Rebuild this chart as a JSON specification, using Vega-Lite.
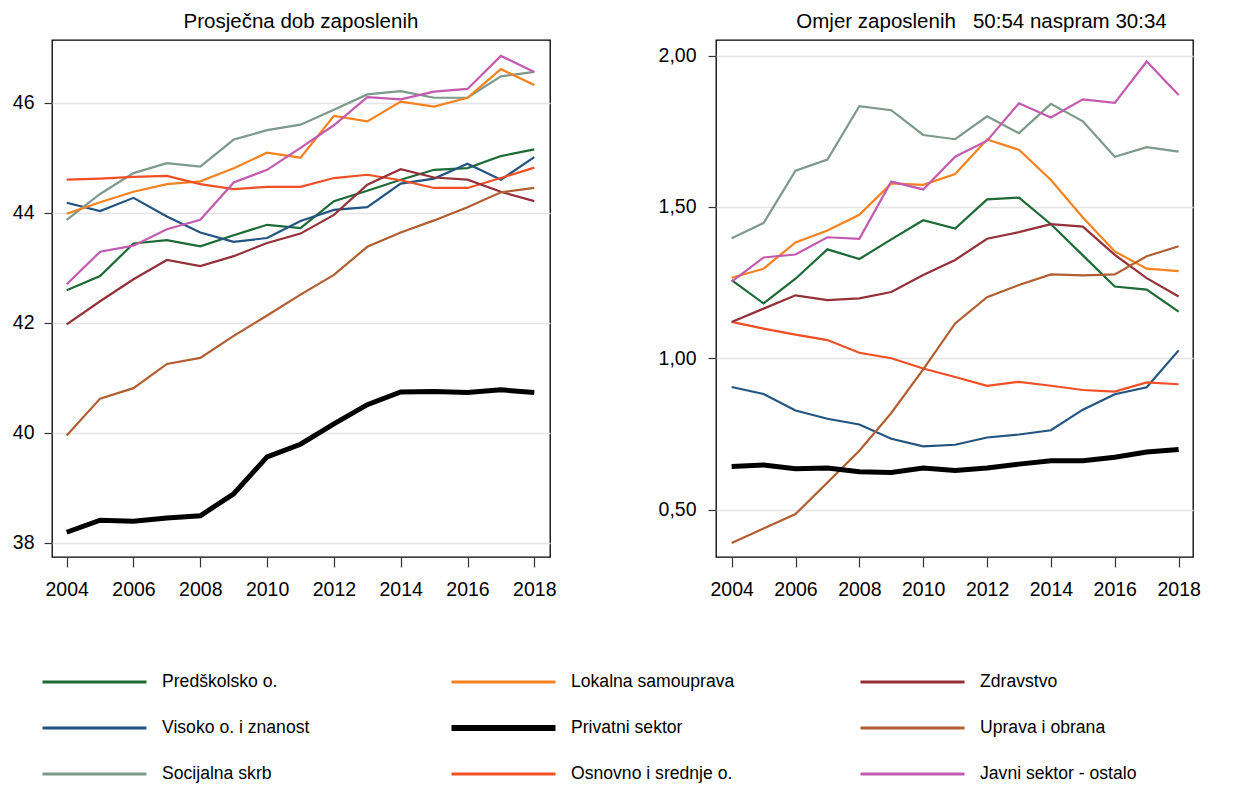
{
  "$schema": "https://vega.github.io/schema/vega-lite/v6.json",
  "background": "white",
  "padding": {"left": 11, "top": 10, "right": 10, "bottom": 4},
  "datasets": {
    "d": [
      {"sektor":"Predškolsko o.","godina":2004,"dob":42.59,"omjer":1.258},
      {"sektor":"Predškolsko o.","godina":2005,"dob":42.85,"omjer":1.181},
      {"sektor":"Predškolsko o.","godina":2006,"dob":43.44,"omjer":1.263},
      {"sektor":"Predškolsko o.","godina":2007,"dob":43.50,"omjer":1.360},
      {"sektor":"Predškolsko o.","godina":2008,"dob":43.39,"omjer":1.328},
      {"sektor":"Predškolsko o.","godina":2009,"dob":43.59,"omjer":1.393},
      {"sektor":"Predškolsko o.","godina":2010,"dob":43.78,"omjer":1.456},
      {"sektor":"Predškolsko o.","godina":2011,"dob":43.72,"omjer":1.429},
      {"sektor":"Predškolsko o.","godina":2012,"dob":44.21,"omjer":1.525},
      {"sektor":"Predškolsko o.","godina":2013,"dob":44.40,"omjer":1.531},
      {"sektor":"Predškolsko o.","godina":2014,"dob":44.60,"omjer":1.443},
      {"sektor":"Predškolsko o.","godina":2015,"dob":44.78,"omjer":1.340},
      {"sektor":"Predškolsko o.","godina":2016,"dob":44.81,"omjer":1.237},
      {"sektor":"Predškolsko o.","godina":2017,"dob":45.03,"omjer":1.227},
      {"sektor":"Predškolsko o.","godina":2018,"dob":45.15,"omjer":1.154},
      {"sektor":"Visoko o. i znanost","godina":2004,"dob":44.18,"omjer":0.905},
      {"sektor":"Visoko o. i znanost","godina":2005,"dob":44.03,"omjer":0.882},
      {"sektor":"Visoko o. i znanost","godina":2006,"dob":44.27,"omjer":0.827},
      {"sektor":"Visoko o. i znanost","godina":2007,"dob":43.93,"omjer":0.800},
      {"sektor":"Visoko o. i znanost","godina":2008,"dob":43.64,"omjer":0.781},
      {"sektor":"Visoko o. i znanost","godina":2009,"dob":43.47,"omjer":0.734},
      {"sektor":"Visoko o. i znanost","godina":2010,"dob":43.54,"omjer":0.709},
      {"sektor":"Visoko o. i znanost","godina":2011,"dob":43.85,"omjer":0.714},
      {"sektor":"Visoko o. i znanost","godina":2012,"dob":44.05,"omjer":0.738},
      {"sektor":"Visoko o. i znanost","godina":2013,"dob":44.10,"omjer":0.748},
      {"sektor":"Visoko o. i znanost","godina":2014,"dob":44.53,"omjer":0.762},
      {"sektor":"Visoko o. i znanost","godina":2015,"dob":44.62,"omjer":0.830},
      {"sektor":"Visoko o. i znanost","godina":2016,"dob":44.89,"omjer":0.881},
      {"sektor":"Visoko o. i znanost","godina":2017,"dob":44.60,"omjer":0.904},
      {"sektor":"Visoko o. i znanost","godina":2018,"dob":45.01,"omjer":1.026},
      {"sektor":"Socijalna skrb","godina":2004,"dob":43.87,"omjer":1.397},
      {"sektor":"Socijalna skrb","godina":2005,"dob":44.34,"omjer":1.447},
      {"sektor":"Socijalna skrb","godina":2006,"dob":44.72,"omjer":1.620},
      {"sektor":"Socijalna skrb","godina":2007,"dob":44.90,"omjer":1.657},
      {"sektor":"Socijalna skrb","godina":2008,"dob":44.84,"omjer":1.833},
      {"sektor":"Socijalna skrb","godina":2009,"dob":45.33,"omjer":1.820},
      {"sektor":"Socijalna skrb","godina":2010,"dob":45.50,"omjer":1.738},
      {"sektor":"Socijalna skrb","godina":2011,"dob":45.60,"omjer":1.724},
      {"sektor":"Socijalna skrb","godina":2012,"dob":45.87,"omjer":1.800},
      {"sektor":"Socijalna skrb","godina":2013,"dob":46.15,"omjer":1.744},
      {"sektor":"Socijalna skrb","godina":2014,"dob":46.21,"omjer":1.841},
      {"sektor":"Socijalna skrb","godina":2015,"dob":46.09,"omjer":1.783},
      {"sektor":"Socijalna skrb","godina":2016,"dob":46.09,"omjer":1.666},
      {"sektor":"Socijalna skrb","godina":2017,"dob":46.48,"omjer":1.698},
      {"sektor":"Socijalna skrb","godina":2018,"dob":46.56,"omjer":1.683},
      {"sektor":"Lokalna samouprava","godina":2004,"dob":43.98,"omjer":1.266},
      {"sektor":"Lokalna samouprava","godina":2005,"dob":44.19,"omjer":1.296},
      {"sektor":"Lokalna samouprava","godina":2006,"dob":44.38,"omjer":1.383},
      {"sektor":"Lokalna samouprava","godina":2007,"dob":44.52,"omjer":1.422},
      {"sektor":"Lokalna samouprava","godina":2008,"dob":44.57,"omjer":1.474},
      {"sektor":"Lokalna samouprava","godina":2009,"dob":44.81,"omjer":1.578},
      {"sektor":"Lokalna samouprava","godina":2010,"dob":45.09,"omjer":1.573},
      {"sektor":"Lokalna samouprava","godina":2011,"dob":45.00,"omjer":1.609},
      {"sektor":"Lokalna samouprava","godina":2012,"dob":45.76,"omjer":1.723},
      {"sektor":"Lokalna samouprava","godina":2013,"dob":45.66,"omjer":1.689},
      {"sektor":"Lokalna samouprava","godina":2014,"dob":46.02,"omjer":1.589},
      {"sektor":"Lokalna samouprava","godina":2015,"dob":45.93,"omjer":1.465},
      {"sektor":"Lokalna samouprava","godina":2016,"dob":46.09,"omjer":1.353},
      {"sektor":"Lokalna samouprava","godina":2017,"dob":46.61,"omjer":1.296},
      {"sektor":"Lokalna samouprava","godina":2018,"dob":46.32,"omjer":1.288},
      {"sektor":"Osnovno i srednje o.","godina":2004,"dob":44.60,"omjer":1.120},
      {"sektor":"Osnovno i srednje o.","godina":2005,"dob":44.62,"omjer":1.098},
      {"sektor":"Osnovno i srednje o.","godina":2006,"dob":44.65,"omjer":1.078},
      {"sektor":"Osnovno i srednje o.","godina":2007,"dob":44.67,"omjer":1.060},
      {"sektor":"Osnovno i srednje o.","godina":2008,"dob":44.52,"omjer":1.018},
      {"sektor":"Osnovno i srednje o.","godina":2009,"dob":44.43,"omjer":1.000},
      {"sektor":"Osnovno i srednje o.","godina":2010,"dob":44.47,"omjer":0.966},
      {"sektor":"Osnovno i srednje o.","godina":2011,"dob":44.47,"omjer":0.938},
      {"sektor":"Osnovno i srednje o.","godina":2012,"dob":44.63,"omjer":0.909},
      {"sektor":"Osnovno i srednje o.","godina":2013,"dob":44.69,"omjer":0.922},
      {"sektor":"Osnovno i srednje o.","godina":2014,"dob":44.59,"omjer":0.909},
      {"sektor":"Osnovno i srednje o.","godina":2015,"dob":44.45,"omjer":0.895},
      {"sektor":"Osnovno i srednje o.","godina":2016,"dob":44.45,"omjer":0.890},
      {"sektor":"Osnovno i srednje o.","godina":2017,"dob":44.63,"omjer":0.920},
      {"sektor":"Osnovno i srednje o.","godina":2018,"dob":44.82,"omjer":0.914},
      {"sektor":"Zdravstvo","godina":2004,"dob":41.97,"omjer":1.120},
      {"sektor":"Zdravstvo","godina":2005,"dob":42.39,"omjer":1.164},
      {"sektor":"Zdravstvo","godina":2006,"dob":42.79,"omjer":1.208},
      {"sektor":"Zdravstvo","godina":2007,"dob":43.14,"omjer":1.192},
      {"sektor":"Zdravstvo","godina":2008,"dob":43.03,"omjer":1.198},
      {"sektor":"Zdravstvo","godina":2009,"dob":43.21,"omjer":1.219},
      {"sektor":"Zdravstvo","godina":2010,"dob":43.45,"omjer":1.275},
      {"sektor":"Zdravstvo","godina":2011,"dob":43.62,"omjer":1.325},
      {"sektor":"Zdravstvo","godina":2012,"dob":43.96,"omjer":1.395},
      {"sektor":"Zdravstvo","godina":2013,"dob":44.51,"omjer":1.417},
      {"sektor":"Zdravstvo","godina":2014,"dob":44.79,"omjer":1.443},
      {"sektor":"Zdravstvo","godina":2015,"dob":44.64,"omjer":1.435},
      {"sektor":"Zdravstvo","godina":2016,"dob":44.60,"omjer":1.342},
      {"sektor":"Zdravstvo","godina":2017,"dob":44.38,"omjer":1.265},
      {"sektor":"Zdravstvo","godina":2018,"dob":44.21,"omjer":1.204},
      {"sektor":"Uprava i obrana","godina":2004,"dob":39.95,"omjer":0.389},
      {"sektor":"Uprava i obrana","godina":2005,"dob":40.62,"omjer":0.437},
      {"sektor":"Uprava i obrana","godina":2006,"dob":40.81,"omjer":0.485},
      {"sektor":"Uprava i obrana","godina":2007,"dob":41.25,"omjer":0.589},
      {"sektor":"Uprava i obrana","godina":2008,"dob":41.36,"omjer":0.694},
      {"sektor":"Uprava i obrana","godina":2009,"dob":41.76,"omjer":0.819},
      {"sektor":"Uprava i obrana","godina":2010,"dob":42.13,"omjer":0.963},
      {"sektor":"Uprava i obrana","godina":2011,"dob":42.51,"omjer":1.115},
      {"sektor":"Uprava i obrana","godina":2012,"dob":42.87,"omjer":1.202},
      {"sektor":"Uprava i obrana","godina":2013,"dob":43.38,"omjer":1.242},
      {"sektor":"Uprava i obrana","godina":2014,"dob":43.64,"omjer":1.277},
      {"sektor":"Uprava i obrana","godina":2015,"dob":43.86,"omjer":1.274},
      {"sektor":"Uprava i obrana","godina":2016,"dob":44.10,"omjer":1.277},
      {"sektor":"Uprava i obrana","godina":2017,"dob":44.37,"omjer":1.337},
      {"sektor":"Uprava i obrana","godina":2018,"dob":44.45,"omjer":1.370},
      {"sektor":"Javni sektor - ostalo","godina":2004,"dob":42.70,"omjer":1.253},
      {"sektor":"Javni sektor - ostalo","godina":2005,"dob":43.29,"omjer":1.333},
      {"sektor":"Javni sektor - ostalo","godina":2006,"dob":43.40,"omjer":1.343},
      {"sektor":"Javni sektor - ostalo","godina":2007,"dob":43.70,"omjer":1.400},
      {"sektor":"Javni sektor - ostalo","godina":2008,"dob":43.87,"omjer":1.395},
      {"sektor":"Javni sektor - ostalo","godina":2009,"dob":44.55,"omjer":1.584},
      {"sektor":"Javni sektor - ostalo","godina":2010,"dob":44.78,"omjer":1.558},
      {"sektor":"Javni sektor - ostalo","godina":2011,"dob":45.18,"omjer":1.666},
      {"sektor":"Javni sektor - ostalo","godina":2012,"dob":45.59,"omjer":1.719},
      {"sektor":"Javni sektor - ostalo","godina":2013,"dob":46.10,"omjer":1.843},
      {"sektor":"Javni sektor - ostalo","godina":2014,"dob":46.06,"omjer":1.796},
      {"sektor":"Javni sektor - ostalo","godina":2015,"dob":46.20,"omjer":1.856},
      {"sektor":"Javni sektor - ostalo","godina":2016,"dob":46.25,"omjer":1.844},
      {"sektor":"Javni sektor - ostalo","godina":2017,"dob":46.85,"omjer":1.981},
      {"sektor":"Javni sektor - ostalo","godina":2018,"dob":46.56,"omjer":1.870},
      {"sektor":"Privatni sektor","godina":2004,"dob":38.19,"omjer":0.642},
      {"sektor":"Privatni sektor","godina":2005,"dob":38.41,"omjer":0.647},
      {"sektor":"Privatni sektor","godina":2006,"dob":38.39,"omjer":0.635},
      {"sektor":"Privatni sektor","godina":2007,"dob":38.45,"omjer":0.637},
      {"sektor":"Privatni sektor","godina":2008,"dob":38.49,"omjer":0.625},
      {"sektor":"Privatni sektor","godina":2009,"dob":38.89,"omjer":0.622},
      {"sektor":"Privatni sektor","godina":2010,"dob":39.56,"omjer":0.637},
      {"sektor":"Privatni sektor","godina":2011,"dob":39.79,"omjer":0.629},
      {"sektor":"Privatni sektor","godina":2012,"dob":40.16,"omjer":0.637},
      {"sektor":"Privatni sektor","godina":2013,"dob":40.51,"omjer":0.650},
      {"sektor":"Privatni sektor","godina":2014,"dob":40.74,"omjer":0.661},
      {"sektor":"Privatni sektor","godina":2015,"dob":40.75,"omjer":0.661},
      {"sektor":"Privatni sektor","godina":2016,"dob":40.73,"omjer":0.673},
      {"sektor":"Privatni sektor","godina":2017,"dob":40.78,"omjer":0.690},
      {"sektor":"Privatni sektor","godina":2018,"dob":40.73,"omjer":0.698}
    ]
  },
  "data": {"name": "d"},
  "bounds": "flush",
  "spacing": 166,
  "resolve": {"scale": {"color": "shared"}, "legend": {"color": "shared"}},
  "hconcat": [
    {
      "width": 498,
      "height": 517,
      "title": {"text": "Prosječna dob zaposlenih"},
      "mark": {"type": "line", "clip": true},
      "encoding": {
        "x": {"field": "godina", "type": "quantitative",
              "scale": {"domain": [2003.56, 2018.47], "nice": false, "zero": false},
              "axis": {"values": [2004, 2006, 2008, 2010, 2012, 2014, 2016, 2018], "format": "d", "title": null}},
        "y": {"field": "dob", "type": "quantitative",
              "scale": {"domain": [37.74, 47.14], "nice": false, "zero": false},
              "axis": {"values": [38, 40, 42, 44, 46], "format": "d", "title": null}},
        "color": {"field": "sektor", "type": "nominal",
                  "scale": {"domain": ["Predškolsko o.", "Visoko o. i znanost", "Socijalna skrb", "Lokalna samouprava", "Privatni sektor", "Osnovno i srednje o.", "Zdravstvo", "Uprava i obrana", "Javni sektor - ostalo"],
                            "range": ["#1c6a36", "#225481", "#7c998b", "#f5821f", "#000000", "#f04f25", "#943039", "#b05e32", "#c35aaf"]},
                  "legend": {"encode": {"symbols": {"update": {"strokeWidth": {"signal": "(datum.value === 'Privatni sektor' ? 6 : 3)"}}}}}},
        "strokeWidth": {"condition": {"test": "datum.sektor === 'Privatni sektor'", "value": 5}, "value": 2.2}
      }
    },
    {
      "width": 477,
      "height": 517,
      "title": {"text": "Omjer zaposlenih\u00a0\u00a0 50:54 naspram 30:34", "dx": 27},
      "mark": {"type": "line", "clip": true},
      "encoding": {
        "x": {"field": "godina", "type": "quantitative",
              "scale": {"domain": [2003.51, 2018.45], "nice": false, "zero": false},
              "axis": {"values": [2004, 2006, 2008, 2010, 2012, 2014, 2016, 2018], "format": "d", "title": null}},
        "y": {"field": "omjer", "type": "quantitative",
              "scale": {"domain": [0.343, 2.052], "nice": false, "zero": false},
              "axis": {"values": [0.5, 1, 1.5, 2], "labelExpr": "replace(format(datum.value, '.2f'), '.', ',')", "title": null, "labelPadding": 12}},
        "color": {"field": "sektor", "type": "nominal",
                  "scale": {"domain": ["Predškolsko o.", "Visoko o. i znanost", "Socijalna skrb", "Lokalna samouprava", "Privatni sektor", "Osnovno i srednje o.", "Zdravstvo", "Uprava i obrana", "Javni sektor - ostalo"],
                            "range": ["#1c6a36", "#225481", "#7c998b", "#f5821f", "#000000", "#f04f25", "#943039", "#b05e32", "#c35aaf"]},
                  "legend": {"encode": {"symbols": {"update": {"strokeWidth": {"signal": "(datum.value === 'Privatni sektor' ? 6 : 3)"}}}}}},
        "strokeWidth": {"condition": {"test": "datum.sektor === 'Privatni sektor'", "value": 5}, "value": 2.2}
      }
    }
  ],
  "config": {
    "font": "Liberation Sans",
    "view": {"stroke": "#000000", "strokeWidth": 1.3},
    "axis": {"domain": false, "grid": false, "tickColor": "#333333", "tickWidth": 1.2, "tickSize": 9,
             "labelFont": "Liberation Sans", "labelFontSize": 19.5, "labelColor": "#000000",
             "gridColor": "#e3e3e3", "gridWidth": 1.5},
    "axisY": {"grid": true, "labelPadding": 10, "tickSize": 8},
    "axisX": {"labelPadding": 13, "tickSize": 10},
    "title": {"font": "Liberation Sans", "fontSize": 20.5, "fontWeight": "normal", "color": "#000000", "offset": 8},
    "legend": {"orient": "none", "legendX": -11, "legendY": 632, "columns": 3, "gridAlign": "all",
               "columnPadding": 124, "rowPadding": 26, "symbolType": "stroke", "symbolSize": 10816,
               "symbolStrokeWidth": 3, "clipHeight": 20, "labelFont": "Liberation Sans", "labelFontSize": 17.6,
               "labelColor": "#000000", "labelOffset": 14, "labelLimit": 400, "title": null}
  }
}
